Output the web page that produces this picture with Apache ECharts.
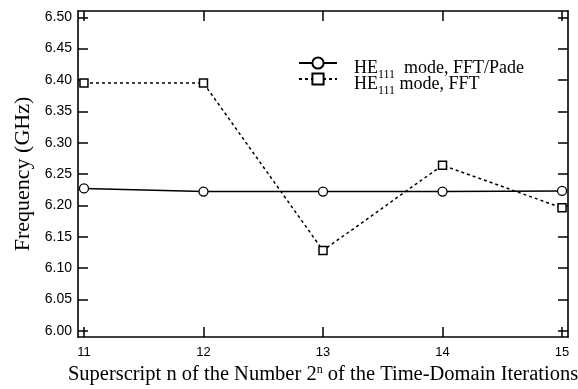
<!DOCTYPE html>
<html><head><meta charset="utf-8">
<script src="https://cdn.jsdelivr.net/npm/echarts@6/dist/echarts.min.js"></script>
<style>html,body{margin:0;padding:0;background:#fff}#c{width:578px;height:389px}</style>
</head><body><div id="c"></div>
<script>
const xValues = [11, 12, 13, 14, 15];
const padeValues = [6.227, 6.222, 6.222, 6.222, 6.223];
const fftValues = [6.395, 6.395, 6.128, 6.264, 6.196];
const yTicks = [6.00, 6.05, 6.10, 6.15, 6.20, 6.25, 6.30, 6.35, 6.40, 6.45, 6.50];
const xTicks = [11, 12, 13, 14, 15];

const chart = echarts.init(document.getElementById('c'), null, {renderer: 'canvas'});
const serif = "'Liberation Serif', 'Times New Roman', serif";
const sans = "'Liberation Sans', Arial, sans-serif";
const axisLine = {show: true, lineStyle: {color: '#000', width: 1.6}};
const tickStyle = {lineStyle: {color: '#000', width: 1.5}};

function pairs(ys) { return xValues.map((x, i) => [x, ys[i]]); }

chart.setOption({
  animation: false,
  backgroundColor: '#fff',
  grid: {left: 78, right: 10, top: 11, bottom: 52, containLabel: false, outerBoundsMode: 'none'},
  legend: {
    orient: 'vertical', left: 293, top: 40, itemGap: -20,
    itemWidth: 38, itemHeight: 14,
    textStyle: {
      fontFamily: serif, fontSize: 18, color: '#000', padding: [0, 0, 0, 12],
      rich: {
        t: {fontFamily: serif, fontSize: 18, lineHeight: 18, color: '#000', padding: [10, 0, 0, 0]},
        sub: {fontFamily: serif, fontSize: 12, lineHeight: 12, color: '#000', padding: [24, 0, 0, 0]}
      }
    },
    formatter: function (name) {
      return name === 'pade'
        ? '{t|HE}{sub|111}{t|  mode, FFT/Pade}'
        : '{t|HE}{sub|111}{t| mode, FFT}';
    }
  },
  xAxis: [{
    type: 'value', min: 10.95, max: 15.05, position: 'bottom',
    axisLine: axisLine,
    axisTick: {show: true, inside: true, length: 10, customValues: xTicks, ...tickStyle},
    axisLabel: {customValues: xTicks, color: '#000', fontFamily: sans, fontSize: 13, margin: 9},
    splitLine: {show: false},
    name: '{t|Superscript n of the Number 2}{sup|n}{t| of the Time-Domain Iterations}',
    nameLocation: 'middle', nameGap: 26,
    nameTextStyle: {
      padding: [0, 0, 0, 0],
      rich: {
        t: {fontFamily: serif, fontSize: 20.5, color: '#000'},
        sup: {fontFamily: serif, fontSize: 12, color: '#000', padding: [0, 0, 10, 0]}
      }
    }
  }, {
    type: 'value', min: 10.95, max: 15.05, position: 'top',
    axisLine: axisLine,
    axisTick: {show: true, inside: true, length: 10, customValues: xTicks, ...tickStyle},
    axisLabel: {show: false},
    splitLine: {show: false}
  }],
  yAxis: [{
    type: 'value', min: 5.99, max: 6.51, position: 'left',
    axisLine: axisLine,
    axisTick: {show: true, inside: true, length: 10, customValues: yTicks, ...tickStyle},
    axisLabel: {customValues: yTicks, color: '#000', fontFamily: sans, fontSize: 14, margin: 6,
      formatter: v => v.toFixed(2)},
    splitLine: {show: false},
    name: 'Frequency (GHz)', nameLocation: 'middle', nameGap: 44,
    nameTextStyle: {fontFamily: serif, fontSize: 22, color: '#000'}
  }, {
    type: 'value', min: 5.99, max: 6.51, position: 'right',
    axisLine: axisLine,
    axisTick: {show: true, inside: true, length: 10, customValues: yTicks, ...tickStyle},
    axisLabel: {show: false},
    splitLine: {show: false}
  }],
  series: [{
    name: 'pade', type: 'line', data: pairs(padeValues),
    symbol: 'circle', symbolSize: 9,
    itemStyle: {color: '#fff', borderColor: '#000', borderWidth: 1.3},
    lineStyle: {color: '#000', width: 1.5, type: 'solid'}
  }, {
    name: 'fft', type: 'line', data: pairs(fftValues),
    symbol: 'rect', symbolSize: 8,
    itemStyle: {color: '#fff', borderColor: '#000', borderWidth: 1.5},
    lineStyle: {color: '#000', width: 1.5, type: [3, 3]}
  }]
});
</script></body></html>
